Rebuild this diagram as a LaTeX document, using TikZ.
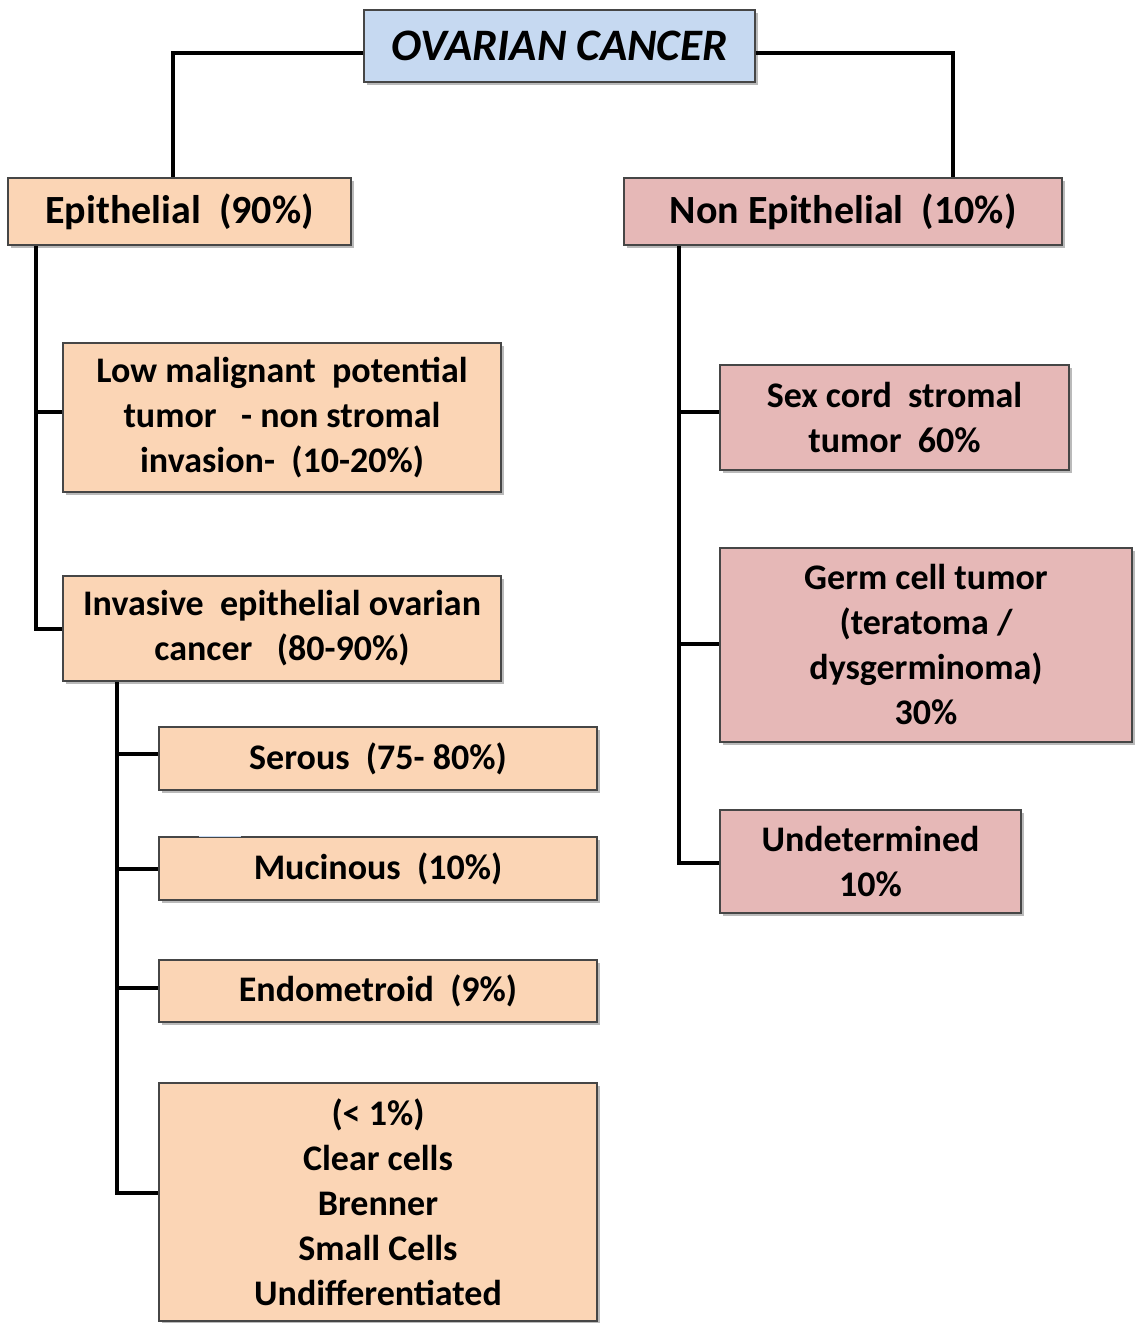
\documentclass[tikz,border=0pt]{standalone}
\usepackage{fontspec}
\setmainfont{Carlito}
\usetikzlibrary{shadows}
\definecolor{peach}{RGB}{251,213,181}
\definecolor{rose}{RGB}{230,184,183}
\definecolor{lblue}{RGB}{198,217,241}
\definecolor{edge}{RGB}{70,70,70}
\tikzset{
  box/.style={draw=edge, line width=1.5pt, inner sep=0pt, align=center,
    font=\fontsize{36}{45}\selectfont\bfseries,
    drop shadow={shadow xshift=3pt, shadow yshift=-3pt, opacity=0.45, fill=black!60}},
  epibox/.style={box, fill=peach},
  nonbox/.style={box, fill=rose},
  link/.style={line width=4pt, black, line cap=butt},
}
\begin{document}
\begin{tikzpicture}[x=1pt,y=-1pt]
\useasboundingbox (0,0) rectangle (1136,1323);
% nodes
\node[box, fill=lblue, minimum width=391pt, minimum height=72pt,
      font=\fontsize{45}{50}\selectfont\bfseries\itshape] (title) at (559.5,46) {OVARIAN CANCER};
\node[epibox, minimum width=343pt, minimum height=67pt, font=\fontsize{40}{45}\selectfont\bfseries] (epi) at (179.5,211.5) {Epithelial\ \ (90\%)};
\node[nonbox, minimum width=438pt, minimum height=67pt, font=\fontsize{40}{45}\selectfont\bfseries] (nonepi) at (843,211.5) {Non Epithelial\ \ (10\%)};
\node[epibox, minimum width=438pt, minimum height=149pt] (low) at (282,417.5) {Low malignant\ \ potential\\tumor\ \ \ - non stromal\\invasion-\ \ (10-20\%)};
\node[epibox, minimum width=438pt, minimum height=105pt] (inv) at (282,628.5) {Invasive\ \ epithelial ovarian\\cancer\ \ \ (80-90\%)};
\node[epibox, minimum width=438pt, minimum height=63pt] (ser) at (378,758.5) {Serous\ \ (75- 80\%)};
\node[epibox, minimum width=438pt, minimum height=63pt] (muc) at (378,868.5) {Mucinous\ \ (10\%)};
\node[epibox, minimum width=438pt, minimum height=62pt] (endo) at (378,991) {Endometroid\ \ (9\%)};
\node[epibox, minimum width=438pt, minimum height=238pt] (oth) at (378,1202) {(< 1\%)\\Clear cells\\Brenner\\Small Cells\\Undifferentiated};
\node[nonbox, minimum width=349pt, minimum height=105pt] (sex) at (894.5,417.5) {Sex cord\ \ stromal\\tumor\ \ 60\%};
\node[nonbox, minimum width=412pt, minimum height=194pt] (germ) at (926,645) {Germ cell tumor\\(teratoma /\\dysgerminoma)\\30\%};
\node[nonbox, minimum width=301pt, minimum height=103pt] (und) at (870.5,861.5) {Undetermined\\10\%};
% small blue mark on Mucinous top edge
\draw[lblue, line width=1.5pt] ([xshift=41pt]muc.north west) -- ([xshift=83pt]muc.north west);
% connectors
\draw[link] ([yshift=-7pt]title.west) -| ([xshift=-6.5pt]epi.north);
\draw[link] ([yshift=-7pt]title.east) -| ([xshift=110pt]nonepi.north);
% epithelial trunk
\draw[link] ([xshift=29pt]epi.south west) |- (inv.west);
\draw[link] ([xshift=29pt,yshift=5.5pt]epi.south west |- low.west) -- ([yshift=5.5pt]low.west);
% invasive trunk
\draw[link] ([xshift=55pt]inv.south west) |- ([yshift=9pt]oth.west);
\draw[link] ([xshift=55pt]inv.south west |- ser.west) ++(0,-4.5) -- ([yshift=4.5pt]ser.west);
\draw[link] ([xshift=55pt]inv.south west |- muc.west) -- (muc.west);
\draw[link] ([xshift=55pt]inv.south west |- endo.west) ++(0,-3) -- ([yshift=3pt]endo.west);
% non-epithelial trunk
\draw[link] ([xshift=56pt]nonepi.south west) |- ([yshift=-1.5pt]und.west);
\draw[link] ([xshift=56pt,yshift=5.5pt]nonepi.south west |- sex.west) -- ([yshift=5.5pt]sex.west);
\draw[link] ([xshift=56pt,yshift=1pt]nonepi.south west |- germ.west) -- ([yshift=1pt]germ.west);
\end{tikzpicture}
\end{document}
